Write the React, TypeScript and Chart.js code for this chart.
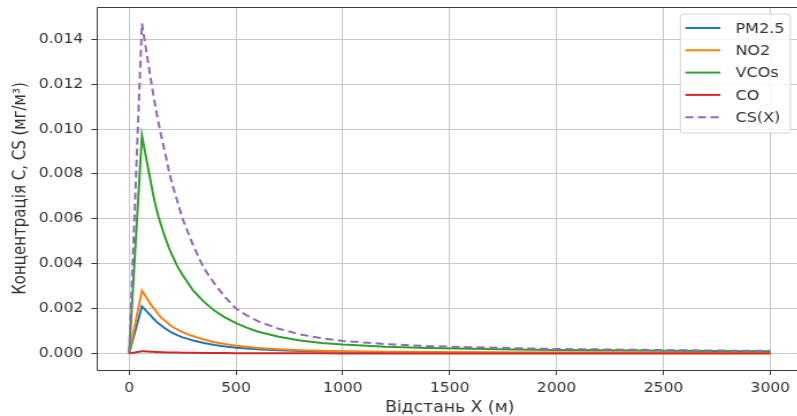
import React, { useEffect, useRef } from "react";
import { Chart, registerables } from "chart.js";

Chart.register(...registerables);

// ---- data ----
const distances = [0, 60, 70, 80, 90, 100, 112, 125, 137, 150, 162, 175, 187, 200, 225, 250, 275, 300, 350, 400, 450, 500, 550, 600, 700, 800, 900, 1000, 1200, 1400, 1600, 1800, 2000, 2250, 2500, 2750, 3000];
const pm25 = [0, 0.0021, 0.002, 0.0019, 0.0018, 0.0017, 0.00157, 0.00145, 0.00135, 0.00125, 0.00116, 0.00108, 0.001, 0.00093, 0.00082, 0.00072, 0.00065, 0.00058, 0.00047, 0.00038, 0.00031, 0.00026, 0.00022, 0.00019, 0.00014, 0.00011, 0.00009, 0.000075, 0.00006, 0.00005, 0.000043, 0.000038, 0.000033, 0.00003, 0.000026, 0.000023, 0.00002];
const no2 = [0, 0.0028, 0.00265, 0.0025, 0.00235, 0.0022, 0.00205, 0.0019, 0.00175, 0.0016, 0.0015, 0.0014, 0.0013, 0.0012, 0.00107, 0.00095, 0.00085, 0.00077, 0.00062, 0.0005, 0.00042, 0.00035, 0.0003, 0.00025, 0.00019, 0.00015, 0.00012, 0.0001, 0.00008, 0.00007, 0.00006, 0.00005, 0.000045, 0.00004, 0.000035, 0.00003, 0.000028];
const vcos = [0, 0.0097, 0.0092, 0.0087, 0.0082, 0.0077, 0.0071, 0.00655, 0.0061, 0.0057, 0.00535, 0.005, 0.0047, 0.0044, 0.0039, 0.0035, 0.00315, 0.0028, 0.0023, 0.0019, 0.0016, 0.00135, 0.00115, 0.00098, 0.00075, 0.00058, 0.00047, 0.0004, 0.0003, 0.00025, 0.00021, 0.00018, 0.00016, 0.00014, 0.00012, 0.00011, 0.0001];
const co = [0, 0.0001, 0.000095, 0.00009, 0.000085, 0.00008, 0.000075, 0.00007, 0.000065, 0.00006, 0.000055, 0.00005, 0.000047, 0.000045, 0.00004, 0.000035, 0.000032, 0.00003, 0.000025, 0.00002, 0.000017, 0.000015, 0.000013, 0.000011, 0.000009, 0.000007, 0.000006, 0.000005, 0.000004, 0.0000035, 0.000003, 0.0000027, 0.0000024, 0.000002, 0.0000018, 0.0000016, 0.0000015];
const csx = [0, 0.0147, 0.0141, 0.0135, 0.0129, 0.0123, 0.0116, 0.0109, 0.0103, 0.0097, 0.0092, 0.00865, 0.0081, 0.0076, 0.0068, 0.006, 0.0054, 0.0048, 0.0038, 0.0031, 0.0025, 0.002, 0.0017, 0.00145, 0.0011, 0.00085, 0.00068, 0.00056, 0.00042, 0.00033, 0.00028, 0.00024, 0.0002, 0.00018, 0.00015, 0.00013, 0.00012];

const seriesLabels = ["PM2.5", "NO2", "VCOs", "CO", "CS(X)"];
const seriesValues = [pm25, no2, vcos, co, csx];
const seriesColors = ["#1f77b4", "#ff7f0e", "#2ca02c", "#d62728", "#9467bd"];
const seriesDashed = [false, false, false, false, true];

const xTicks = [0, 500, 1000, 1500, 2000, 2500, 3000];
const yTicks = [0, 0.002, 0.004, 0.006, 0.008, 0.01, 0.012, 0.014];
const xRange = [-150, 3150];
const yRange = [-0.000735, 0.015435];

const xTitle = "Відстань X (м)";
const yTitle = "Концентрація C, CS (мг/м³)";

// ---- layout ----
const S = 1.15; // horizontal stretch of the reference picture
const W = 704;
const H = 416;
const FONT = "'DejaVu Sans', sans-serif";
const TEXT = "#333333";
const SPINE = "#3c3c3c";
const GRID = "#c6c6c6";

const framePlugin = {
  id: "frame",
  afterDraw(chart: any) {
    const { ctx, chartArea } = chart;
    const l = Math.round(chartArea.left) + 0.5;
    const t = Math.round(chartArea.top) + 0.5;
    const b = Math.round(chartArea.bottom) + 0.5;
    const r = chartArea.right;
    ctx.save();
    ctx.strokeStyle = SPINE;
    ctx.lineWidth = 1;
    ctx.beginPath();
    ctx.moveTo(r, t);
    ctx.lineTo(l, t);
    ctx.lineTo(l, b);
    ctx.lineTo(r, b);
    ctx.stroke();
    ctx.restore();
  },
};

const legendPlugin = {
  id: "mplLegend",
  afterDraw(chart: any) {
    const { ctx, chartArea } = chart;
    const right = 790 / S;
    const left = right - 110 / S;
    const top = chartArea.top + 7;
    const bottom = top + 119;
    ctx.save();
    ctx.beginPath();
    ctx.roundRect(left, top, right - left, bottom - top, 3);
    ctx.fillStyle = "rgba(255,255,255,0.8)";
    ctx.fill();
    ctx.strokeStyle = "#d4d4d4";
    ctx.lineWidth = 1;
    ctx.stroke();
    const handleX0 = left + 5 / S;
    const handleX1 = left + 40 / S;
    const textX = left + 55 / S;
    chart.data.datasets.forEach((ds: any, i: number) => {
      const y = top + 14 + i * 22.3;
      ctx.beginPath();
      ctx.setLineDash(ds.borderDash || []);
      ctx.strokeStyle = ds.borderColor;
      ctx.lineWidth = 2;
      ctx.moveTo(handleX0, y);
      ctx.lineTo(handleX1, y);
      ctx.stroke();
      ctx.setLineDash([]);
      ctx.fillStyle = TEXT;
      ctx.font = `14px ${FONT}`;
      ctx.textBaseline = "middle";
      ctx.textAlign = "left";
      ctx.fillText(ds.label, textX, y + 1);
    });
    ctx.restore();
  },
};

export default function App() {
  const canvasRef = useRef<HTMLCanvasElement | null>(null);

  useEffect(() => {
    const canvas = canvasRef.current;
    if (!canvas) return;
    const datasets = seriesLabels.map((label, i) => ({
      label,
      data: distances.map((x, k) => ({ x, y: seriesValues[i][k] })),
      borderColor: seriesColors[i],
      backgroundColor: seriesColors[i],
      borderWidth: 2,
      borderDash: seriesDashed[i] ? [7, 4] : [],
      pointRadius: 0,
      tension: 0,
      fill: false,
      order: seriesLabels.length - i,
    }));

    const chart = new Chart(canvas, {
      type: "line",
      data: { datasets },
      options: {
        animation: false,
        responsive: false,
        devicePixelRatio: 1,
        layout: {
          autoPadding: false,
          padding: { left: 0, right: W - 802 / S, top: 7, bottom: 0 },
        },
        plugins: {
          legend: { display: false },
          tooltip: { enabled: false },
        },
        scales: {
          x: {
            type: "linear",
            min: xRange[0],
            max: xRange[1],
            afterBuildTicks: (scale: any) => {
              scale.ticks = xTicks.map((v) => ({ value: v }));
            },
            afterFit: (scale: any) => {
              scale.height = 46;
              scale.paddingLeft = 0;
              scale.paddingRight = 0;
            },
            ticks: {
              color: TEXT,
              font: { family: FONT, size: 13.5 },
              padding: 5,
              maxRotation: 0,
              autoSkip: false,
              callback: (v: any) => String(v),
            },
            grid: { color: GRID, lineWidth: 1, drawTicks: true, tickLength: 5, tickColor: SPINE },
            border: { display: false },
            title: {
              display: true,
              text: xTitle,
              color: TEXT,
              font: { family: FONT, size: 15, lineHeight: 1.0 },
              padding: { top: 0, bottom: 0.5 },
            },
          },
          y: {
            type: "linear",
            min: yRange[0],
            max: yRange[1],
            afterBuildTicks: (scale: any) => {
              scale.ticks = yTicks.map((v) => ({ value: v }));
            },
            afterFit: (scale: any) => {
              scale.width = 97 / S;
              scale.paddingTop = 0;
              scale.paddingBottom = 0;
            },
            ticks: {
              color: TEXT,
              font: { family: FONT, size: 13.5 },
              padding: 7,
              autoSkip: false,
              callback: (v: any) => Number(v).toFixed(3),
            },
            grid: { color: GRID, lineWidth: 1, drawTicks: true, tickLength: 5, tickColor: SPINE },
            border: { display: false },
            title: {
              display: true,
              text: yTitle,
              color: TEXT,
              font: { family: FONT, size: 15, lineHeight: 1.2 },
              padding: { top: 9, bottom: 0 },
            },
          },
        },
      },
      plugins: [framePlugin, legendPlugin],
    } as any);

    return () => chart.destroy();
  }, []);

  return (
    <div
      style={{
        position: "absolute",
        left: 0,
        top: 0,
        width: "797px",
        height: `${H}px`,
        overflow: "hidden",
      }}
    >
      <canvas
        ref={canvasRef}
        width={W}
        height={H}
        style={{
          display: "block",
          width: `${W * S}px`,
          height: `${H}px`,
        }}
      />
    </div>
  );
}
